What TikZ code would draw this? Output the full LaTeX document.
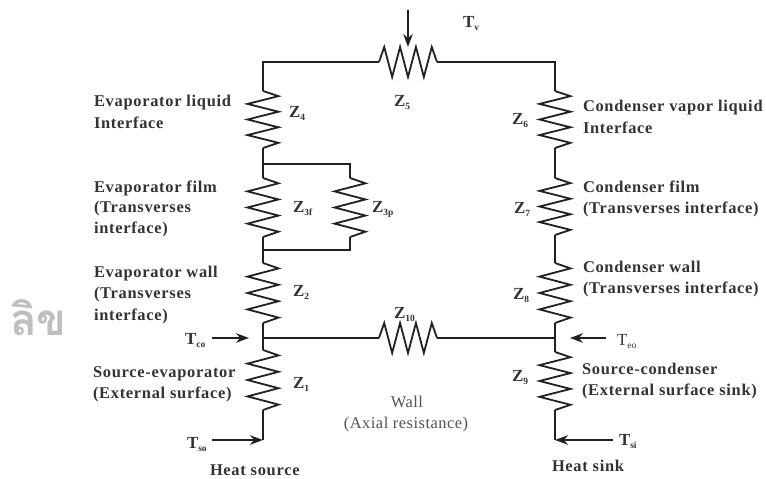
\documentclass[tikz,border=0pt]{standalone}
\usepackage{fontspec}
\setmainfont{Liberation Serif}
\newfontfamily\thaifont[Script=Thai]{Loma}
\newfontfamily\labfont[LetterSpace=4.3]{Liberation Serif Bold}
\newfontfamily\wallfont[LetterSpace=3]{Liberation Serif}
\usetikzlibrary{calc,arrows.meta}
\definecolor{ink}{gray}{0.13}
\definecolor{txt}{gray}{0.2}
\tikzset{
  wire/.style={draw=ink,line width=1.8bp,line join=miter},
  flow/.style={draw=ink,line width=1.8bp,-{Stealth[length=13bp,width=9.5bp]}},
  lab/.style={anchor=base west,inner sep=0pt,outer sep=0pt,text=txt,font=\fontsize{16.5}{18}\labfont,align=left},
  sym/.style={anchor=base west,inner sep=0pt,outer sep=0pt,text=txt,font=\fontsize{17}{18}\selectfont\bfseries},
  plain/.style={anchor=base,inner sep=0pt,outer sep=0pt,text=txt!85,font=\fontsize{16.5}{18}\wallfont},
}
\newcommand{\subs}[2]{#1\raisebox{-3bp}{\fontsize{9.5}{10}\selectfont #2}}
\newcommand{\zig}[3]{% from, to, amplitude
  \draw[wire] (#1)
  -- ($(#1)!.09!(#2)!#3!90:(#2)$)
  -- ($(#1)!.2267!(#2)!#3!-90:(#2)$)
  -- ($(#1)!.3634!(#2)!#3!90:(#2)$)
  -- ($(#1)!.5!(#2)!#3!-90:(#2)$)
  -- ($(#1)!.6367!(#2)!#3!90:(#2)$)
  -- ($(#1)!.7734!(#2)!#3!-90:(#2)$)
  -- ($(#1)!.91!(#2)!#3!90:(#2)$)
  -- (#2);}
\begin{document}
\begin{tikzpicture}[x=1bp,y=-1bp]
\useasboundingbox[fill=white] (0,0) rectangle (766,479);
% faded watermark, cut at its right side
\begin{scope}
\clip (0,280) rectangle (68.5,345);
\node[anchor=base west,inner sep=0pt,text=black!25,font=\fontsize{44}{44}\selectfont\thaifont\bfseries] (mark) at (10,335) {ลิขส};
\end{scope}
% coordinates
\coordinate (TL) at (263,62);
\coordinate (TR) at (555,62);
\coordinate (z5a) at (379,62);
\coordinate (z5b) at (437,62);
\coordinate (z4a) at (263,91);
\coordinate (z4b) at (263,148);
\coordinate (J3t) at (263,164);
\coordinate (z3fa) at (263,178);
\coordinate (z3fb) at (263,237);
\coordinate (J3b) at (263,250);
\coordinate (P3t) at (350,164);
\coordinate (z3pa) at (350,178);
\coordinate (z3pb) at (350,237);
\coordinate (P3b) at (350,250);
\coordinate (z2a) at (263,263);
\coordinate (z2b) at (263,323);
\coordinate (ML) at (263,338);
\coordinate (z1a) at (263,350);
\coordinate (z1b) at (263,410);
\coordinate (BL) at (263,440);
\coordinate (z10a) at (379,338);
\coordinate (z10b) at (437,338);
\coordinate (MR) at (555,338);
\coordinate (z6a) at (555,91);
\coordinate (z6b) at (555,148);
\coordinate (z7a) at (555,178);
\coordinate (z7b) at (555,235);
\coordinate (z8a) at (555,263);
\coordinate (z8b) at (555,323);
\coordinate (z9a) at (555,352);
\coordinate (z9b) at (555,410);
\coordinate (BR) at (555,440);
% wires
\draw[wire] (z4a) -- (TL) -- (z5a);
\draw[wire] (z5b) -- (TR) -- (z6a);
\draw[wire] (z4b) -- (z3fa);
\draw[wire] (J3t) -- (P3t) -- (z3pa);
\draw[wire] (z3pb) -- (P3b) -- (J3b);
\draw[wire] (z3fb) -- (z2a);
\draw[wire] (z2b) -- (z1a);
\draw[wire] (z1b) -- (BL);
\draw[wire] (ML) -- (z10a);
\draw[wire] (z10b) -- (MR);
\draw[wire] (z6b) -- (z7a);
\draw[wire] (z7b) -- (z8a);
\draw[wire] (z8b) -- (z9a);
\draw[wire] (z9b) -- (BR);
% resistors
\zig{z5a}{z5b}{15bp}
\zig{z10a}{z10b}{15bp}
\zig{z4a}{z4b}{15.5bp}
\zig{z3fa}{z3fb}{15.5bp}
\zig{z3pa}{z3pb}{15.5bp}
\zig{z2a}{z2b}{15.5bp}
\zig{z1a}{z1b}{15.5bp}
\zig{z6a}{z6b}{15.5bp}
\zig{z7a}{z7b}{15.5bp}
\zig{z8a}{z8b}{15.5bp}
\zig{z9a}{z9b}{15.5bp}
% arrows
\coordinate (aT) at (408,10);
\coordinate (aTe) at (408,47);
\coordinate (aCo) at (212,338);
\coordinate (aCoe) at (249,338);
\coordinate (aSo) at (212,440);
\coordinate (aEo) at (606,338);
\coordinate (aEoe) at (570,338);
\coordinate (aSi) at (613,440);
\draw[flow] (aT) -- (aTe);
\draw[flow] (aCo) -- (aCoe);
\draw[flow] (aSo) -- (BL);
\draw[flow] (aEo) -- (aEoe);
\draw[flow] (aSi) -- (BR);
% left labels
\node[lab] (l4a) at (94,107) {Evaporator liquid};
\node[lab] (l4b) at (94,129) {Interface};
\node[lab] (l3a) at (94,193) {Evaporator film};
\node[lab] (l3b) at (94,213) {(Transverses};
\node[lab] (l3c) at (94,234) {interface)};
\node[lab] (l2a) at (94,278) {Evaporator wall};
\node[lab] (l2b) at (94,299) {(Transverses};
\node[lab] (l2c) at (94,320) {interface)};
\node[lab] (l1a) at (93,377) {Source-evaporator};
\node[lab] (l1b) at (93,398) {(External surface)};
\node[lab] (hs) at (210,475) {Heat source};
% right labels
\node[lab] (r6a) at (583,112) {Condenser vapor liquid};
\node[lab] (r6b) at (583,134) {Interface};
\node[lab] (r7a) at (583,193) {Condenser film};
\node[lab] (r7b) at (583,214) {(Transverses interface)};
\node[lab] (r8a) at (583,273) {Condenser wall};
\node[lab] (r8b) at (583,294) {(Transverses interface)};
\node[lab] (r9a) at (582,374) {Source-condenser};
\node[lab] (r9b) at (582,395) {(External surface sink)};
\node[lab] (hk) at (552,471) {Heat sink};
% symbols
\node[sym] (tv) at (463,28) {\subs{T}{v}};
\node[sym] (z5) at (394,107) {\subs{Z}{5}};
\node[sym] (z4) at (289,118) {\subs{Z}{4}};
\node[sym] (z3f) at (293,213) {\subs{Z}{3f}};
\node[sym] (z3p) at (372,213) {\subs{Z}{3p}};
\node[sym] (z2) at (293,297) {\subs{Z}{2}};
\node[sym] (z1) at (293,388) {\subs{Z}{1}};
\node[sym] (z6) at (512,125) {\subs{Z}{6}};
\node[sym] (z7) at (514,214) {\subs{Z}{7}};
\node[sym] (z8) at (513,300) {\subs{Z}{8}};
\node[sym] (z9) at (512,381) {\subs{Z}{9}};
\node[sym] (z10) at (394,318) {\subs{Z}{10}};
\node[sym] (tco) at (185,344) {\subs{T}{co}};
\node[sym] (tso) at (187,448) {\subs{T}{so}};
\node[sym,font=\fontsize{17}{18}\selectfont] (teo) at (617,345) {\subs{T}{eo}};
\node[sym] (tsi) at (619,445) {\subs{T}{si}};
% wall
\node[plain] (w1) at (407,407) {Wall};
\node[plain] (w2) at (406,428) {(Axial resistance)};
\end{tikzpicture}
\end{document}
